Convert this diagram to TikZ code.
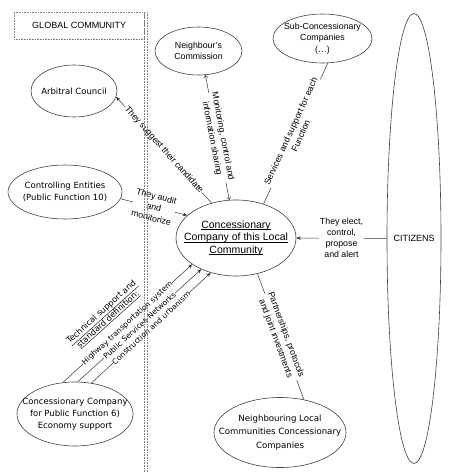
\documentclass[tikz,border=0pt]{standalone}
\usepackage{fontspec}
\setmainfont{Liberation Sans}
\newfontfamily\dv{DejaVu Sans}
\usetikzlibrary{shapes.geometric,arrows.meta}
\newcommand\thickul[1]{\leavevmode\sbox0{#1}\rlap{\vrule width\wd0 height -1.3pt depth 2.3pt}\usebox0}
\begin{document}
\begin{tikzpicture}[x=1pt,y=-1pt,
 ell/.style={draw=black!75, line width=0.6pt, ellipse, inner sep=0pt},
 conn/.style={draw=black!80, line width=0.5pt},
 tip/.style={-{Stealth[length=4.5pt,width=3.5pt]}},
 barbs/.style={{Straight Barb[length=2.5pt,width=4pt]}-{Straight Barb[length=2.5pt,width=4pt]}},
 lab/.style={font=\fontsize{8.8}{11}\selectfont, align=center, fill=white, inner sep=1pt},
 vlab/.style={font=\dv\fontsize{7.6}{9}\selectfont, fill=white, inner sep=0.3pt},
 atxt/.style={font=\fontsize{8.8}{11}\selectfont, align=center},
 vtxt/.style={font=\dv\fontsize{8.5}{12}\selectfont, align=center},
 dots/.style={draw=black!50, line width=0.5pt, dash pattern=on 0.8pt off 0.8pt}
]
\useasboundingbox (0,0) rectangle (461,474);

% global community box
\node[dots, minimum width=130, minimum height=27, anchor=north west, inner sep=0pt, font=\fontsize{9}{11}\selectfont] (gc) at (14,12) {GLOBAL COMMUNITY};

% ellipses
\node[ell, minimum width=86, minimum height=52] (arb) at (74,91) {};
\node[vtxt] (arbt) at (arb) {Arbitral Council};
\node[ell, minimum width=87, minimum height=48] (nc) at (198.5,51) {};
\node[atxt] (nct) at (nc) {Neighbour's\\Commission};
\node[ell, minimum width=99, minimum height=49] (sc) at (322.5,38.5) {};
\node[atxt, font=\fontsize{8.8}{11.7}\selectfont] (sct) at (sc) {Sub-Concessionary\\Companies\\(…)};
\node[ell, minimum width=114, minimum height=54] (ce) at (65,192) {};
\node[vtxt] (cet) at (ce) {Controlling Entities\\(Public Function 10)};
\node[ell, minimum width=120, minimum height=76] (cen) at (236,238) {};
\node[font=\fontsize{10.5}{12.5}\selectfont, align=center] (cent) at (cen) {\thickul{Concessionary}\\\thickul{Company of this Local}\\\thickul{Community}};
\node[ell, minimum width=54, minimum height=450] (cit) at (414,238.5) {};
\node[atxt, font=\fontsize{9}{11}\selectfont] (citt) at (cit) {CITIZENS};
\node[ell, minimum width=116, minimum height=64] (f6) at (75,414) {};
\node[vtxt] (f6t) at (f6) {Concessionary Company\\for Public Function 6)\\Economy support};
\node[ell, minimum width=132, minimum height=70] (nl) at (280,432.5) {};
\node[vtxt, font=\dv\fontsize{8.6}{13.3}\selectfont] (nlt) at (nl) {Neighbouring Local\\Communities Concessionary\\Companies};

% connectors
\draw[conn, tip] (cen.125) -- node[lab, sloped] (l1) {They suggest their candidate} (arb.-8);
\draw[conn, barbs] (nc.-74) -- node[lab, sloped] (l2) {Monitoring, control and\\information sharing} (cen.100);
\draw[conn] (cen.51) -- node[lab, sloped] (l3) {Services and support for each\\Function} (sc.-78);
\draw[conn, tip] (ce.-7) -- node[lab, sloped] (l4) {They audit\\and\\monitorize} (cen.155);
\draw[conn, tip] (cit.180) -- node[lab] (l5) {They elect,\\control,\\propose\\and alert} (cen.0);
\draw[conn, tip] (f6.111) -- node[vlab, sloped] (l6) {Highway transportation system} (cen.211);
\draw[conn, tip] (f6.85) -- node[vlab, sloped] (l7) {Public Services Networks} (cen.222);
\draw[conn, tip] (f6.62) -- node[vlab, sloped] (l8) {Construction and urbanism} (cen.234);
\node[font=\dv\fontsize{8.2}{10}\selectfont, align=center, rotate=42] (tech) at (105,316) {\underline{Technical support and}\\\underline{standard definition:}};
\draw[conn] (cen.-59) -- node[lab, sloped] (l9) {Partnerships, protocols\\and joint investments} (nl.54);

% double dotted separator
\draw[dots] (144.3,12) -- (144.3,472);
\draw[dots] (147.6,12) -- (147.6,472);
\end{tikzpicture}
\end{document}
